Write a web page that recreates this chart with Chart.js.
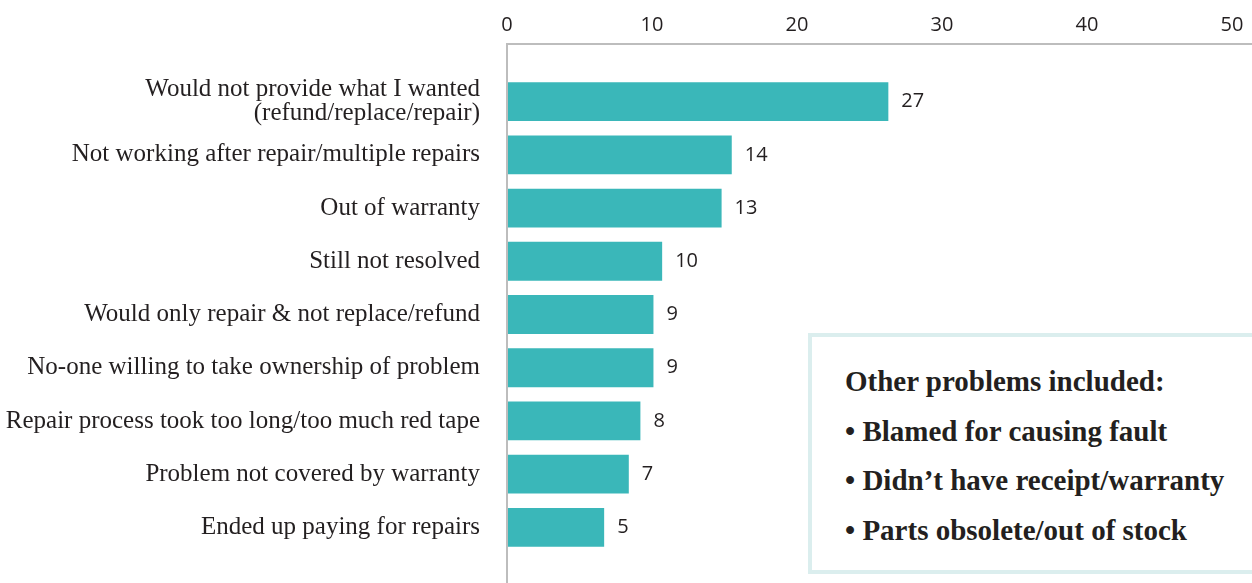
<!DOCTYPE html>
<html>
<head>
<meta charset="utf-8">
<script src="https://cdn.jsdelivr.net/npm/chart.js@4"></script>
<style>
  html, body { margin: 0; padding: 0; background: #fff; }
  #wrap { position: relative; width: 1252px; height: 583px; overflow: hidden; }
  #note {
    position: absolute; left: 808px; top: 333px; width: 460px; height: 241px;
    box-sizing: border-box; border: 4px solid #dbeeee; background: #fff;
    font-family: "Liberation Serif", serif; font-weight: bold; font-size: 29px;
    line-height: 29px; color: #231f20;
  }
  #note div { position: absolute; left: 33px; white-space: nowrap; }
</style>
</head>
<body>
<div id="wrap">
  <canvas id="chart" width="1252" height="583"></canvas>
  <div id="note">
    <div style="top:30px">Other problems included:</div>
    <div style="top:80px">• Blamed for causing fault</div>
    <div style="top:129px">• Didn’t have receipt/warranty</div>
    <div style="top:179px">• Parts obsolete/out of stock</div>
  </div>
</div>
<script>
const categories = [
  ['Would not provide what I wanted', '(refund/replace/repair)'],
  'Not working after repair/multiple repairs',
  'Out of warranty',
  'Still not resolved',
  'Would only repair & not replace/refund',
  'No-one willing to take ownership of problem',
  'Repair process took too long/too much red tape',
  'Problem not covered by warranty',
  'Ended up paying for repairs'
];
// bar lengths as measured against the axis
const barValues = [26.3, 15.5, 14.8, 10.7, 10.1, 10.1, 9.2, 8.4, 6.7];
// numbers printed next to the bars
const shownValues = [27, 14, 13, 10, 9, 9, 8, 7, 5];
const xTicks = [0, 10, 20, 30, 40, 50];

const AXIS_COLOR = '#bdbdbd';
const TEXT_COLOR = '#231f20';

const axisLines = {
  id: 'axisLines',
  afterDatasetsDraw(chart) {
    const { ctx, chartArea } = chart;
    ctx.save();
    ctx.strokeStyle = AXIS_COLOR;
    ctx.lineWidth = 2;
    ctx.beginPath();
    ctx.moveTo(chartArea.left, chart.height);
    ctx.lineTo(chartArea.left, 44);
    ctx.lineTo(chart.width, 44);
    ctx.stroke();
    ctx.restore();
  }
};

const barLabels = {
  id: 'barLabels',
  afterDatasetsDraw(chart) {
    const { ctx } = chart;
    const meta = chart.getDatasetMeta(0);
    ctx.save();
    ctx.fillStyle = TEXT_COLOR;
    ctx.font = '20px "Open Sans", sans-serif';
    ctx.textAlign = 'left';
    ctx.textBaseline = 'middle';
    meta.data.forEach((bar, i) => {
      ctx.fillText(String(shownValues[i]), bar.x + 13, bar.y);
    });
    ctx.restore();
  }
};

new Chart(document.getElementById('chart'), {
  type: 'bar',
  data: {
    labels: categories,
    datasets: [{
      data: barValues,
      backgroundColor: '#3ab7b9',
      borderWidth: 0,
      barPercentage: 0.73,
      categoryPercentage: 1
    }]
  },
  options: {
    indexAxis: 'y',
    responsive: false,
    animation: false,
    layout: { padding: { top: 0, right: 20, bottom: 29, left: 0 } },
    plugins: { legend: { display: false }, tooltip: { enabled: false } },
    scales: {
      x: {
        position: 'top',
        min: 0,
        max: 50,
        afterBuildTicks: (scale) => { scale.ticks = xTicks.map((v) => ({ value: v })); },
        afterFit: (scale) => {
          scale.height = 75;
          scale.paddingLeft = 0;
          scale.paddingRight = 0;
        },
        grid: { display: false, drawTicks: false },
        border: { display: false },
        ticks: {
          padding: 38,
          color: TEXT_COLOR,
          font: { family: '"Open Sans", sans-serif', size: 20 }
        }
      },
      y: {
        afterFit: (scale) => {
          scale.width = 507;
          scale.paddingTop = 0;
          scale.paddingBottom = 0;
        },
        grid: { display: false, drawTicks: false },
        border: { display: false },
        ticks: {
          padding: 27,
          color: TEXT_COLOR,
          font: { family: '"Liberation Serif", serif', size: 25, lineHeight: 0.96 }
        }
      }
    }
  },
  plugins: [axisLines, barLabels]
});
</script>
</body>
</html>
